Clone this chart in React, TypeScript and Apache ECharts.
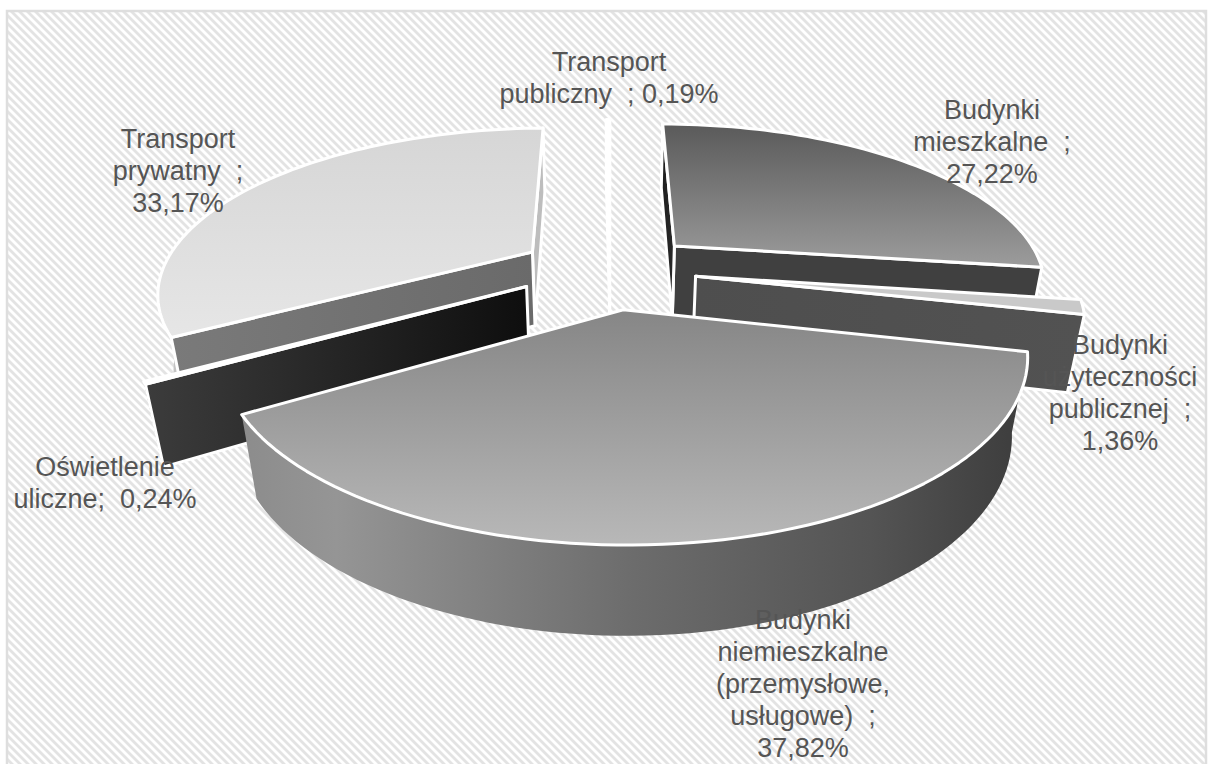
import React, { useEffect, useRef } from "react";
import * as echarts from "echarts";

const categories = [
  "Budynki mieszkalne",
  "Budynki użyteczności publicznej",
  "Budynki niemieszkalne (przemysłowe, usługowe)",
  "Oświetlenie uliczne",
  "Transport prywatny",
  "Transport publiczny",
];
const shares = [27.22, 1.36, 37.82, 0.24, 33.17, 0.19];
const labelTemplates = [
  "Budynki\nmieszkalne  ;\n{v}",
  "Budynki\nużyteczności\npublicznej  ;\n{v}",
  "Budynki\nniemieszkalne\n(przemysłowe,\nusługowe)  ;\n{v}",
  "Oświetlenie\nuliczne;  {v}",
  "Transport\nprywatny  ;\n{v}",
  "Transport\npubliczny  ; {v}",
];
const labelAnchors = [
  [992, 94],
  [1120, 329],
  [803, 604],
  [105, 451],
  [178, 123],
  [609, 46],
];
// How far each slice is pulled out of the disc, in disc radii (across, away).
const pullOut = [
  [0.18, 0.175],
  [0.229, -0.02],
  [0.034, -0.217],
  [-0.22, -0.082],
  [-0.215, 0.135],
  [-0.001, 0.22],
];
// Back-to-front order in which the slices are painted.
const paintOrder = [5, 4, 0, 3, 1, 2];

type Fill = [string, string][];
const faces: { top: string[]; wall: Fill; cutStart: string[]; cutEnd: string[] }[] = [
  { top: ["#5a5a5a", "#9c9c9c"], wall: [["0", "#3c3c3c"], ["1", "#3c3c3c"]], cutStart: ["#1c1c1c", "#2c2c2c"], cutEnd: ["#404040", "#404040"] },
  { top: ["#c9c9c9", "#c9c9c9"], wall: [["0", "#4a4a4a"], ["1", "#4a4a4a"]], cutStart: ["#4c4c4c", "#4c4c4c"], cutEnd: ["#4e4e4e", "#525252"] },
  { top: ["#868686", "#b8b8b8"], wall: [["0", "#8c8c8c"], ["0.12", "#959595"], ["0.5", "#6c6c6c"], ["0.8", "#545454"], ["1", "#3c3c3c"]], cutStart: ["#777777", "#777777"], cutEnd: ["#777777", "#777777"] },
  { top: ["#6a6a6a", "#6a6a6a"], wall: [["0", "#333333"], ["1", "#333333"]], cutStart: ["#3c3c3c", "#0e0e0e"], cutEnd: ["#3c3c3c", "#0e0e0e"] },
  { top: ["#d6d6d6", "#e6e6e6"], wall: [["0", "#c4c4c4"], ["1", "#b8b8b8"]], cutStart: ["#7a7a7a", "#6a6a6a"], cutEnd: ["#bdbdbd", "#bdbdbd"] },
  { top: ["#ffffff", "#ffffff"], wall: [["0", "#ffffff"], ["1", "#ffffff"]], cutStart: ["#ffffff", "#ffffff"], cutEnd: ["#ffffff", "#ffffff"] },
];

// Camera constants of the tilted disc.
const CX = 610;
const CY = 273;
const RX = 372;
const RY = 161;
const DEPTH = 78;
const PERSP_Y = 0.23;
const PERSP_Z = 0.035;

const starts = shares.map((_, i) => shares.slice(0, i).reduce((a, b) => a + b, 0));

function project(angle: number, radius: number, ox: number, oy: number, z: number) {
  const wx = ox + radius * Math.sin(angle);
  const wy = oy + radius * Math.cos(angle);
  const s = 1 / (1 + PERSP_Y * wy + PERSP_Z * z);
  return [CX + RX * wx * s, CY + (-RY * wy + DEPTH * z) * s];
}

function linear(horizontal: boolean, stops: [string, string][]) {
  return {
    type: "linear",
    x: 0,
    y: 0,
    x2: horizontal ? 1 : 0,
    y2: horizontal ? 0 : 1,
    colorStops: stops.map(([o, color]) => ({ offset: Number(o), color })),
  };
}

function renderSlice(params: any, api: any) {
  const sliceId = paintOrder[params.dataIndex];
  const share = api.value(0);
  const start = (api.value(1) / 100) * Math.PI * 2;
  const ox = api.value(2);
  const oy = api.value(3);
  const end = start + (share / 100) * Math.PI * 2;
  const face = faces[sliceId];

  const steps = Math.max(2, Math.ceil((end - start) / 0.03));
  const arc = (z: number) => {
    const pts: number[][] = [];
    for (let k = 0; k <= steps; k++) {
      pts.push(project(start + ((end - start) * k) / steps, 1, ox, oy, z));
    }
    return pts;
  };
  const apexTop = project(0, 0, ox, oy, 0);
  const apexBottom = project(0, 0, ox, oy, 1);
  const top = arc(0);
  const bottom = arc(1);
  const edge = { stroke: "#ffffff", lineWidth: 3, lineJoin: "round" };

  const cut = (angle: number, colors: string[]) => ({
    type: "polygon",
    shape: {
      points: [apexTop, project(angle, 1, ox, oy, 0), project(angle, 1, ox, oy, 1), apexBottom],
    },
    style: { fill: linear(true, [["0", colors[0]], ["1", colors[1]]]), ...edge },
  });

  // Only the cut faces turned towards the viewer are drawn.
  const children: any[] = [
    {
      type: "polygon",
      shape: { points: [...top, ...bottom.slice().reverse()] },
      style: { fill: linear(true, face.wall) },
    },
  ];
  if (-Math.sin(end) < 0.05) children.push(cut(end, face.cutEnd));
  if (Math.sin(start) < 0.05) children.push(cut(start, face.cutStart));
  children.push({
    type: "polygon",
    shape: { points: [apexTop, ...top] },
    style: { fill: linear(false, [["0", face.top[0]], ["1", face.top[1]]]), ...edge },
  });
  return { type: "group", children };
}

function hatchTile() {
  const size = 8;
  const canvas = document.createElement("canvas");
  canvas.width = size;
  canvas.height = size;
  const ctx = canvas.getContext("2d")!;
  ctx.fillStyle = "#ffffff";
  ctx.fillRect(0, 0, size, size);
  ctx.strokeStyle = "#e3e3e3";
  ctx.lineWidth = 2.8;
  for (const shift of [-size, 0, size]) {
    ctx.beginPath();
    ctx.moveTo(shift - 1, -1);
    ctx.lineTo(shift + size + 1, size + 1);
    ctx.stroke();
  }
  return canvas;
}

export default function App() {
  const ref = useRef<HTMLDivElement>(null);
  useEffect(() => {
    if (!ref.current) return;
    const chart = echarts.init(ref.current, undefined, { renderer: "svg" });
    const formatShare = (v: number) => `${v.toFixed(2).replace(".", ",")}%`;
    chart.setOption({
      animation: false,
      series: [
        {
          type: "custom",
          coordinateSystem: "none",
          renderItem: renderSlice,
          silent: true,
          z: 5,
          data: paintOrder.map((i) => ({
            name: categories[i],
            value: [shares[i], starts[i], pullOut[i][0], pullOut[i][1]],
          })),
        },
      ],
      graphic: [
        {
          type: "rect",
          z: 0,
          shape: { x: 7, y: 11, width: 1199, height: 760 },
          style: {
            fill: { image: hatchTile(), repeat: "repeat" },
            stroke: "#dedede",
            lineWidth: 2.5,
          },
        },
        ...labelTemplates.map((tpl, i) => ({
          type: "text",
          z: 20,
          x: labelAnchors[i][0],
          y: labelAnchors[i][1],
          style: {
            text: tpl.replace("{v}", formatShare(shares[i])),
            fill: "#555555",
            font: '27px "Liberation Sans", Arial, sans-serif',
            lineHeight: 32,
            align: "center",
            verticalAlign: "top",
          },
        })),
      ],
    });
    return () => chart.dispose();
  }, []);
  return (
    <div
      ref={ref}
      style={{ position: "fixed", left: 0, top: 0, width: 1208, height: 764, background: "#ffffff" }}
    />
  );
}
